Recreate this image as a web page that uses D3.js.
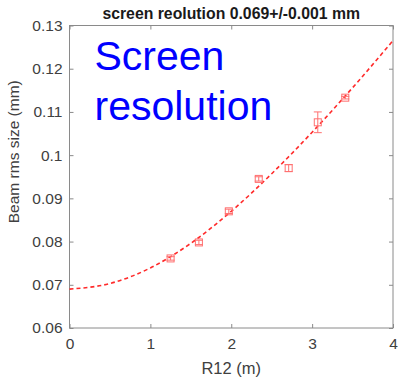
<!DOCTYPE html>
<html>
<head>
<meta charset="utf-8">
<script src="https://cdn.jsdelivr.net/npm/d3@7"></script>
<style>
  body { margin: 0; background: #fff; }
  text { font-family: "Liberation Sans", Arial, sans-serif; }
</style>
</head>
<body>
<svg id="drawing_region"></svg>
<script>
// measured points (R12 in m, beam rms size in mm, error in mm)
const r12 = [1.25, 1.60, 1.97, 2.34, 2.71, 3.07, 3.41];
const beamSize = [0.0761, 0.0798, 0.0870, 0.0945, 0.0970, 0.1076, 0.1133];
const beamErr = [0.0004, 0.0005, 0.0005, 0.0005, 0.0008, 0.0024, 0.0003];

// fitted curve
const fitX = [0, 0.5, 1, 1.5, 2, 2.5, 3, 3.5, 4];
const fitY = [0.0690, 0.0703, 0.0739, 0.0796, 0.0870, 0.0957, 0.1053, 0.1156, 0.1265];

const xTicks = [0, 1, 2, 3, 4];
const yTicks = [0.06, 0.07, 0.08, 0.09, 0.1, 0.11, 0.12, 0.13];

const config = {
    width: 398,
    height: 378,
    margin: {top: 25.5, right: 5, bottom: 50, left: 69.5}
};

const svg = d3.select('#drawing_region')
    .attr('width', config.width)
    .attr('height', config.height);

const inner_width = config.width - config.margin.left - config.margin.right;
const inner_height = config.height - config.margin.top - config.margin.bottom;

const chart = svg.append('g')
    .attr('transform', `translate(${config.margin.left}, ${config.margin.top})`);

const xscale = d3.scaleLinear().domain([0, 4]).range([0, inner_width]);
const yscale = d3.scaleLinear().domain([0.06, 0.13]).range([inner_height, 0]);

const axisColor = '#8a8a8a';
const textColor = '#404040';

// box
chart.append('rect')
    .attr('width', inner_width)
    .attr('height', inner_height)
    .attr('fill', 'none')
    .attr('stroke', axisColor)
    .attr('stroke-width', 1);

function styleAxis(g, showText) {
    g.select('.domain').remove();
    g.selectAll('.tick line').attr('stroke', axisColor);
    g.selectAll('.tick text')
        .attr('fill', textColor)
        .attr('font-size', '15.5px')
        .style('display', showText ? null : 'none');
}

const xaxis_group = chart.append('g')
    .attr('transform', `translate(0, ${inner_height})`)
    .call(d3.axisBottom(xscale).tickValues(xTicks).tickFormat(d3.format('d'))
        .tickSizeInner(-4).tickSizeOuter(0).tickPadding(10));
styleAxis(xaxis_group, true);

chart.append('g')
    .call(d3.axisTop(xscale).tickValues(xTicks).tickSizeInner(-4).tickSizeOuter(0))
    .call(g => styleAxis(g, false));

const yaxis_group = chart.append('g')
    .call(d3.axisLeft(yscale).tickValues(yTicks).tickFormat(d => d3.format('')(+d.toFixed(2)))
        .tickSizeInner(-4).tickSizeOuter(0).tickPadding(7));
styleAxis(yaxis_group, true);

chart.append('g')
    .attr('transform', `translate(${inner_width}, 0)`)
    .call(d3.axisRight(yscale).tickValues(yTicks).tickSizeInner(-4).tickSizeOuter(0))
    .call(g => styleAxis(g, false));

// fit curve
const fitData = fitX.map((x, i) => ({x: x, y: fitY[i]}));
chart.append('path')
    .datum(fitData)
    .attr('fill', 'none')
    .attr('stroke', '#ff2a2a')
    .attr('stroke-width', 1.6)
    .attr('stroke-dasharray', '4,3')
    .attr('d', d3.line().x(d => xscale(d.x)).y(d => yscale(d.y)).curve(d3.curveMonotoneX));

// data with error bars
const data = r12.map((x, i) => ({x: x, y: beamSize[i], e: beamErr[i]}));
const markColor = '#ff7070';
const pts = chart.selectAll('.pt')
    .data(data)
    .enter()
    .append('g')
    .attr('class', 'pt');

pts.append('line')
    .attr('x1', d => xscale(d.x)).attr('x2', d => xscale(d.x))
    .attr('y1', d => yscale(d.y - d.e)).attr('y2', d => yscale(d.y + d.e))
    .attr('stroke', markColor);
pts.append('line')
    .attr('x1', d => xscale(d.x) - 4).attr('x2', d => xscale(d.x) + 4)
    .attr('y1', d => yscale(d.y + d.e)).attr('y2', d => yscale(d.y + d.e))
    .attr('stroke', markColor);
pts.append('line')
    .attr('x1', d => xscale(d.x) - 4).attr('x2', d => xscale(d.x) + 4)
    .attr('y1', d => yscale(d.y - d.e)).attr('y2', d => yscale(d.y - d.e))
    .attr('stroke', markColor);
pts.append('rect')
    .attr('x', d => xscale(d.x) - 3.5)
    .attr('y', d => yscale(d.y) - 3.5)
    .attr('width', 7)
    .attr('height', 7)
    .attr('fill', 'none')
    .attr('stroke', markColor);

// title
chart.append('text')
    .attr('x', inner_width / 2)
    .attr('y', -7)
    .attr('text-anchor', 'middle')
    .attr('font-size', '15.8px')
    .attr('font-weight', 'bold')
    .attr('fill', '#1a1a1a')
    .text('screen reolution 0.069+/-0.001 mm');

// axis labels
chart.append('text')
    .attr('x', inner_width / 2)
    .attr('y', inner_height + 46)
    .attr('text-anchor', 'middle')
    .attr('font-size', '16.5px')
    .attr('fill', textColor)
    .text('R12 (m)');

chart.append('text')
    .attr('x', -inner_height / 2 + 25)
    .attr('y', -51)
    .attr('transform', 'rotate(-90)')
    .attr('text-anchor', 'middle')
    .attr('font-size', '15.5px')
    .attr('fill', textColor)
    .text('Beam rms size (mm)');

// annotation
const note = chart.append('text')
    .attr('fill', '#0000ff')
    .attr('font-size', '41px');
note.append('tspan').attr('x', 25).attr('y', 44).text('Screen');
note.append('tspan').attr('x', 25).attr('y', 94).text('resolution');
</script>
</body>
</html>
